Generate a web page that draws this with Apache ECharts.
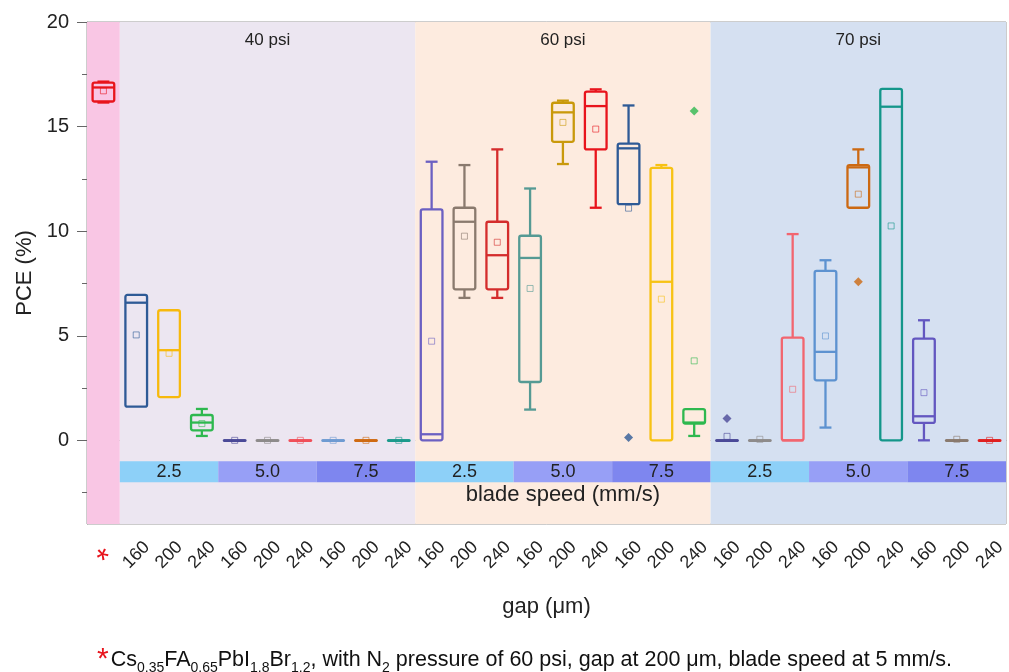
<!DOCTYPE html>
<html>
<head>
<meta charset="utf-8">
<script src="https://cdn.jsdelivr.net/npm/echarts@6/dist/echarts.min.js"></script>
<style>html,body{margin:0;padding:0;background:#fff}#c{width:1009px;height:672px}</style>
</head>
<body>
<div id="c"></div>
<script>
// ---- data ----
const gapLabels = ['*','160','200','240','160','200','240','160','200','240',
                   '160','200','240','160','200','240','160','200','240',
                   '160','200','240','160','200','240','160','200','240'];
const boxMin    = [16.15,1.61,2.07,0.21,0,0,0,0,0,0, 0,6.81,6.81,1.47,13.21,11.12,11.29,0,0.21, 0,0,0,0.61,11.12,0,0,0,0];
const boxQ1     = [16.2,1.61,2.07,0.48,0,0,0,0,0,0, 0,7.22,7.22,2.79,14.27,13.91,11.29,0,0.8, 0,0,0,2.87,11.12,0,0.83,0,0];
const boxMedian = [16.87,6.58,4.31,0.85,0,0,0,0,0,0, 0.29,10.45,8.85,8.72,15.68,15.98,13.96,7.58,0.85, 0,0,0,4.23,13.05,15.95,1.15,0,0];
const boxQ3     = [17.1,6.95,6.22,1.21,0,0,0,0,0,0, 11.04,11.12,10.45,9.78,16.14,16.67,14.19,13.03,1.49, 0,0,4.91,8.1,13.16,16.8,4.86,0,0];
const boxMax    = [17.15,6.95,6.22,1.5,0,0,0,0,0,0, 13.32,13.16,13.91,12.04,16.24,16.78,16.01,13.16,1.49, 0,0,9.86,8.61,13.91,16.8,5.74,0,0];
const boxMean   = [16.71,5.04,4.16,0.8,0,0,0,0,0,0, 4.74,9.76,9.47,7.26,15.2,14.88,11.1,6.75,3.8, 0.19,0.05,2.44,4.99,11.77,10.25,2.28,0.05,0];
const outliers  = [[16,0.13],[18,15.74],[19,1.04],[23,7.58]];
const boxColors = ['#e8141c','#2e5a96','#f7b90c','#2eb84f','#4b4a98','#8e8b8b','#f0505a','#6f9bd2','#cf6a12','#1c9a8c',
                   '#6b60c2','#8a7a6e','#d42c2c','#559a94','#c9990b','#e8141c','#2e5a96','#f7c214','#2eb84f',
                   '#4b4a98','#8e8b8b','#f2656f','#5d92d0','#cc6912','#14968a','#6357c0','#8a7a6e','#e02020'];
const pressureGroups = [{name:'', from:0, to:1}, {name:'40 psi', from:1, to:10}, {name:'60 psi', from:10, to:19}, {name:'70 psi', from:19, to:28}];
const speedLabels = ['2.5','5.0','7.5'];
const speedBandRange = [-1, -2];
const yMajorTicks = [0,5,10,15,20];
const yMinorTicks = [-2.5,2.5,7.5,12.5,17.5];

// ---- styles ----
const groupColors = ['#f9c6e4','#ece6f1','#fdebdf','#d5e0f1'];
const speedColors = ['#8dd0f8','#979ff6','#7e86ef'];
const FONT = 'Liberation Sans, Arial, sans-serif';

const boxData = gapLabels.map((_, i) => [i, boxMin[i], boxQ1[i], boxMedian[i], boxQ3[i], boxMax[i]]);
const meanData = boxMean.map((v, i) => ({value: [i, v], itemStyle: {borderColor: boxColors[i]}}));
const outlierData = outliers.map(o => ({value: o, itemStyle: {color: boxColors[o[0]]}}));

const bgAreas = pressureGroups.map((g, i) => [
  {xAxis: g.from, yAxis: -4, itemStyle: {color: groupColors[i]},
   label: {show: !!g.name, formatter: g.name, position: 'insideTop', distance: 10, fontSize: 17, color: '#222', fontFamily: FONT}},
  {xAxis: g.to, yAxis: 20}
]);
const speedAreas = [];
for (let g = 1; g < pressureGroups.length; g++) {
  for (let s = 0; s < speedLabels.length; s++) {
    const from = pressureGroups[g].from + s * 3;
    speedAreas.push([
      {xAxis: from, yAxis: speedBandRange[0], itemStyle: {color: speedColors[s]},
       label: {show: true, formatter: speedLabels[s], position: 'inside', fontSize: 18, color: '#222', fontFamily: FONT}},
      {xAxis: from + 3, yAxis: speedBandRange[1]}
    ]);
  }
}

const chart = echarts.init(document.getElementById('c'), null, {renderer: 'canvas'});
chart.setOption({
  animation: false,
  backgroundColor: '#fff',
  textStyle: {fontFamily: FONT},
  grid: {left: 87, right: 3, top: 22, bottom: 148, show: true, borderColor: '#9a9a9a', borderWidth: 1, backgroundColor: 'transparent'},
  xAxis: [
    {type: 'category', data: gapLabels, boundaryGap: true,
     name: 'gap (μm)', nameLocation: 'middle', nameGap: 72,
     nameTextStyle: {fontSize: 22, color: '#222', fontFamily: FONT},
     axisLine: {show: true, lineStyle: {color: '#9a9a9a'}},
     axisTick: {show: true, alignWithLabel: true, interval: 0, length: 10, lineStyle: {color: '#666'}},
     axisLabel: {interval: 0, rotate: 45, align: 'center', verticalAlign: 'middle', margin: 31, fontSize: 18, color: '#222', fontFamily: FONT,
       formatter: v => v === '*' ? '{star|*}' : v,
       rich: {star: {fontSize: 32, color: '#e8141c', fontFamily: FONT, padding: [12, 0, 0, 0]}}},
     splitLine: {show: false}},
    {type: 'value', min: 0, max: 28, show: false}
  ],
  yAxis: [
    {type: 'value', min: -4, max: 20,
     name: 'PCE (%)', nameLocation: 'middle', nameGap: 46, nameRotate: 90,
     nameTextStyle: {fontSize: 22, color: '#222', fontFamily: FONT},
     axisLine: {show: true, lineStyle: {color: '#9a9a9a'}},
     axisTick: {show: true, length: 10, customValues: yMajorTicks, lineStyle: {color: '#666'}},
     axisLabel: {customValues: yMajorTicks, fontSize: 20, color: '#222', margin: 18, fontFamily: FONT},
     splitLine: {show: false}},
    {type: 'value', min: -4, max: 20, position: 'left',
     axisLine: {show: false},
     axisTick: {show: true, length: 5, customValues: yMinorTicks, lineStyle: {color: '#666'}},
     axisLabel: {show: false}, splitLine: {show: false}}
  ],
  series: [
    {type: 'scatter', xAxisIndex: 1, yAxisIndex: 0, data: [], z: 0, silent: true,
     markArea: {silent: true, data: bgAreas},
     markPoint: {silent: true, symbol: 'rect', symbolSize: 0,
       data: [{coord: [14.5, -2.6], label: {show: true, formatter: 'blade speed (mm/s)', fontSize: 22, color: '#222', fontFamily: FONT, position: 'inside'}}]}},
    {type: 'scatter', xAxisIndex: 1, yAxisIndex: 0, data: [], z: 1, silent: true,
     markArea: {silent: true, data: speedAreas}},
    {type: 'custom', xAxisIndex: 0, yAxisIndex: 0, z: 5, silent: true,
     data: boxData,
     renderItem: function (params, api) {
       const i = api.value(0);
       const c = boxColors[params.dataIndex];
       const vMin = api.value(1), vQ1 = api.value(2), vMed = api.value(3), vQ3 = api.value(4), vMax = api.value(5);
       const bw = api.size([1, 0])[0] * 0.66;
       const cw = bw * 0.55;
       const pMin = api.coord([i, vMin]), pQ1 = api.coord([i, vQ1]), pMed = api.coord([i, vMed]);
       const pQ3 = api.coord([i, vQ3]), pMax = api.coord([i, vMax]);
       const x = pMed[0];
       const st = {stroke: c, lineWidth: 2.3, fill: null};
       const children = [];
       if (vMax > vQ3) {
         children.push({type: 'line', shape: {x1: x, y1: pQ3[1], x2: x, y2: pMax[1]}, style: st});
         children.push({type: 'line', shape: {x1: x - cw / 2, y1: pMax[1], x2: x + cw / 2, y2: pMax[1]}, style: st});
       }
       if (vMin < vQ1) {
         children.push({type: 'line', shape: {x1: x, y1: pQ1[1], x2: x, y2: pMin[1]}, style: st});
         children.push({type: 'line', shape: {x1: x - cw / 2, y1: pMin[1], x2: x + cw / 2, y2: pMin[1]}, style: st});
       }
       children.push({type: 'rect', shape: {x: x - bw / 2, y: pQ3[1], width: bw, height: Math.max(pQ1[1] - pQ3[1], 0.5), r: 2}, style: st});
       children.push({type: 'line', shape: {x1: x - bw / 2, y1: pMed[1], x2: x + bw / 2, y2: pMed[1]}, style: st});
       return {type: 'group', children: children};
     }},
    {type: 'scatter', xAxisIndex: 0, yAxisIndex: 0, z: 6, silent: true,
     data: meanData, symbol: 'rect', symbolSize: 6,
     itemStyle: {color: 'transparent', borderWidth: 1, opacity: 0.6}},
    {type: 'scatter', xAxisIndex: 0, yAxisIndex: 0, z: 6, silent: true,
     data: outlierData, symbol: 'diamond', symbolSize: 9}
  ],
  graphic: [
    {type: 'text', left: 97, top: 645, silent: true,
     style: {
       text: '{star|*}{t|Cs}{s|0.35}{t|FA}{s|0.65}{t|PbI}{s|1.8}{t|Br}{s|1.2}{t|, with N}{s|2}{t| pressure of 60 psi, gap at 200 μm, blade speed at 5 mm/s.}',
       rich: {
         star: {fontSize: 30, fill: '#e8141c', fontFamily: FONT, lineHeight: 30, verticalAlign: 'bottom', padding: [0, 2, 0, 0]},
         t: {fontSize: 21.5, fill: '#111', fontFamily: FONT, lineHeight: 26},
         s: {fontSize: 14, fill: '#111', fontFamily: FONT, lineHeight: 14, verticalAlign: 'bottom'}
       }
     }}
  ]
});
</script>
</body>
</html>
